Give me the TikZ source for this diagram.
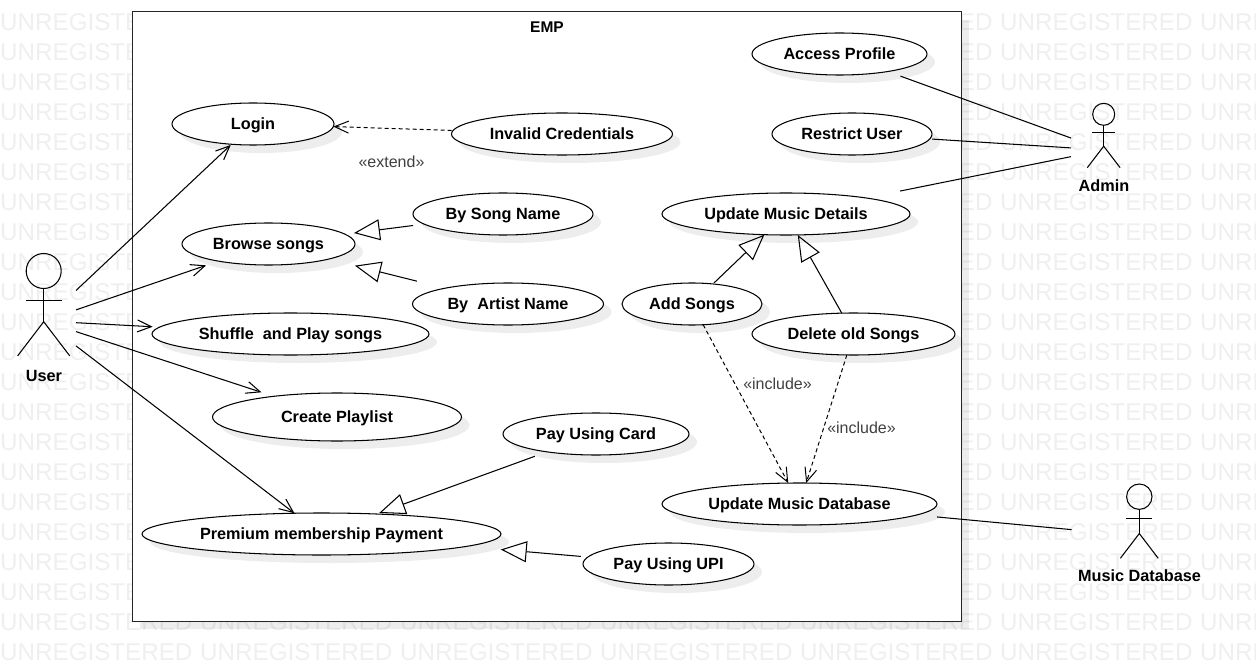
\documentclass[tikz,border=0pt]{standalone}
\usepackage{fontspec}
\setmainfont{Liberation Sans}
\usetikzlibrary{positioning, arrows.meta, shadows, shapes.geometric}
\definecolor{wmgray}{HTML}{EFEFEF}
\definecolor{stereogray}{HTML}{404040}
\newcommand{\uc}[1]{\makebox[0pt]{#1}}
\tikzset{
  usecase/.style={
    draw,
    ellipse,
    fill=white,
    line width=1.05pt,
    inner sep=0pt,
    outer sep=0pt,
    minimum height=42pt,
    text height=13pt,
    text depth=2pt,
    font=\fontsize{16.25}{19}\selectfont\bfseries,
    drop shadow={shadow xshift=8pt, shadow yshift=-8pt, fill=black, opacity=.07}
  },
  sysframe/.style={
    draw=black!85,
    rectangle,
    fill=white,
    line width=1pt,
    inner sep=0pt,
    outer sep=0pt,
    drop shadow={shadow xshift=8pt, shadow yshift=-8pt, fill=black, opacity=.07}
  },
  actorbox/.style={
    rectangle,
    inner sep=0pt,
    outer sep=0pt,
    minimum height=100pt
  },
  actorlabel/.style={
    font=\fontsize{16.25}{19}\selectfont\bfseries,
    inner sep=0pt
  },
  stereo/.style={
    font=\fontsize{16}{19}\selectfont,
    text=stereogray,
    inner sep=0pt
  },
  watermark/.style={
    font=\fontsize{24.2}{28}\selectfont,
    text=wmgray,
    inner sep=0pt,
    anchor=west
  },
  assoc/.style={
    line width=1.05pt,
    -{Straight Barb[length=14pt, width=12pt]}
  },
  plainlink/.style={
    line width=1.05pt
  },
  dep/.style={
    line width=1pt,
    dash pattern=on 4pt off 3pt,
    -{Straight Barb[length=14pt, width=12pt]}
  },
  generalize/.style={
    line width=1.05pt,
    -{Triangle[open, length=26pt, width=21pt]}
  },
  stickman/.pic={
    \draw[line width=1.05pt] (0,0) circle (1);
    \draw[line width=1.05pt] (0,1) -- (0,2.9);
    \draw[line width=1.05pt] (-1.03,1.68) -- (1.03,1.68);
    \draw[line width=1.05pt] (-1.49,4.85) -- (0,2.9) -- (1.49,4.85);
  }
}
\begin{document}
\begin{tikzpicture}[x=1pt, y=-1pt]
  \useasboundingbox (0,0) rectangle (1256,671);
  \begin{scope}
    \clip (0,0) rectangle (1256,671);
    \foreach \row in {0,...,19} {
      \foreach \col in {0,4,5,6} {
        \node[watermark] (wm\row-\col) at ({\col*200}, {22+\row*30}) {UNREGISTERED};
      }
    }
    \foreach \row in {20,21} {
      \foreach \col in {0,...,6} {
        \node[watermark] (wm\row-\col) at ({\col*200}, {22+\row*30}) {UNREGISTERED};
      }
    }
  \end{scope}

  \node[sysframe, minimum width=829pt, minimum height=609pt] (emp) at (546.5,316.5) {};
  \node[font=\fontsize{15.5}{18}\selectfont\bfseries, inner sep=0pt] (emptitle) at (547,27) {EMP};

  \node[usecase, minimum width=162pt] (login) at (253,124) {\uc{Login}};
  \node[usecase, minimum width=221pt] (invalid) at (562,134) {\uc{Invalid Credentials}};
  \node[usecase, minimum width=173pt] (browse) at (268.5,244) {\uc{Browse songs}};
  \node[usecase, minimum width=180pt] (bysong) at (503,214) {\uc{By Song Name}};
  \node[usecase, minimum width=191pt] (byartist) at (508,304) {\uc{By~ Artist Name}};
  \node[usecase, minimum width=277pt] (shuffle) at (290.5,334) {\uc{Shuffle~ and Play songs}};
  \node[usecase, minimum width=249pt, minimum height=48pt] (playlist) at (337,417) {\uc{Create Playlist}};
  \node[usecase, minimum width=186pt] (paycard) at (596,434) {\uc{Pay Using Card}};
  \node[usecase, minimum width=359pt] (premium) at (321.5,534) {\uc{Premium membership Payment}};
  \node[usecase, minimum width=171pt] (payupi) at (668.5,564) {\uc{Pay Using UPI}};
  \node[usecase, minimum width=175pt] (access) at (839.5,54) {\uc{Access Profile}};
  \node[usecase, minimum width=160pt] (restrict) at (852,134) {\uc{Restrict User}};
  \node[usecase, minimum width=248pt] (details) at (786,214) {\uc{Update Music Details}};
  \node[usecase, minimum width=140pt] (addsongs) at (692,304) {\uc{Add Songs}};
  \node[usecase, minimum width=203pt] (delsongs) at (853.5,334) {\uc{Delete old Songs}};
  \node[usecase, minimum width=275pt] (database) at (799.5,504) {\uc{Update Music Database}};
  \draw[draw=black!85, line width=1pt] (emp.north east) -- (emp.south east);

  \pic (useract) [scale=17.5] at (43.7,271) {stickman};
  \pic (adminact) [scale=11] at (1103.7,114.3) {stickman};
  \pic (dbact) [scale=12.7] at (1139.3,496.7) {stickman};
  \node[actorbox, minimum width=65pt] (user) at (43.5,321) {};
  \node[actorbox, minimum width=66pt] (admin) at (1104,150) {};
  \node[actorbox, minimum width=136pt] (musicdb) at (1139.5,536) {};
  \node[actorlabel] (userlabel) at (44,375.5) {User};
  \node[actorlabel] (adminlabel) at (1104,185.5) {Admin};
  \node[actorlabel] (musicdblabel) at (1139.5,575.5) {Music Database};

  \draw[assoc, shorten >=1pt] (user) -- (login);
  \draw[assoc, shorten >=13pt] (user) -- (browse);
  \draw[assoc, shorten >=7pt] (user) -- (shuffle);
  \draw[assoc, shorten >=13pt] (user) -- (playlist);
  \draw[assoc] (user) -- (premium);

  \draw[plainlink, shorten <=13.5pt] (access) -- (admin);
  \draw[plainlink, shorten <=2.3pt] (restrict) -- (admin);
  \draw[plainlink, shorten <=35pt] (details) -- (admin);
  \draw[plainlink, shorten <=20.7pt] (database) -- (musicdb);

  \draw[dep, shorten <=1.5pt] (invalid) -- (login);
  \draw[dep] (addsongs) -- (database);
  \draw[dep] (delsongs) -- (database);

  \draw[generalize, shorten <=11pt, shorten >=9pt] (bysong) -- (browse);
  \draw[generalize, shorten <=29pt, shorten >=27pt] (byartist) -- (browse);
  \draw[generalize, shorten <=1.5pt] (addsongs) -- (details);
  \draw[generalize] (delsongs) -- (details);
  \draw[generalize, shorten <=13pt, shorten >=3pt] (paycard) -- (premium);
  \draw[generalize, shorten <=7pt, shorten >=35pt] (payupi) -- (premium);

  \node[stereo] (extendlabel) at (391.5,162) {«extend»};
  \node[stereo] (includeone) at (777.5,384) {«include»};
  \node[stereo] (includetwo) at (861.5,428) {«include»};
\end{tikzpicture}
\end{document}
